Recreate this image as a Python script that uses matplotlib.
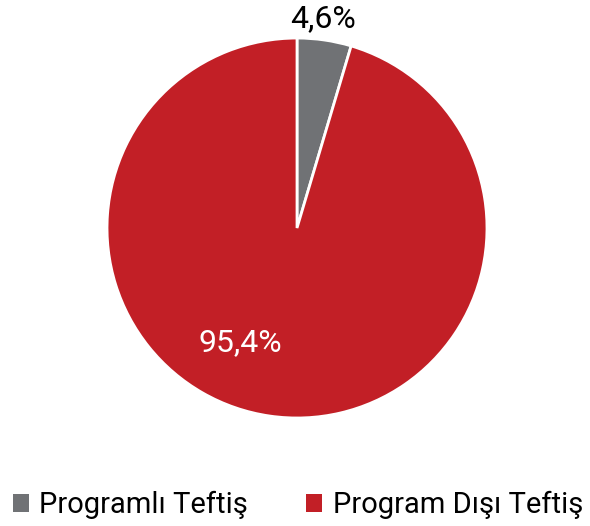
import matplotlib.pyplot as plt
from matplotlib.patches import Patch

plt.rcParams['font.family'] = ['Roboto', 'DejaVu Sans']

labels = ['Programlı Teftiş', 'Program Dışı Teftiş']
values = [4.6, 95.4]
label_text = ['4,6%', '95,4%']
colors = ['#707275', '#C21F26']

fig = plt.figure(figsize=(5.9, 5.26), dpi=100)
ax = fig.add_axes([0.1814, 0.2053, 0.644, 0.7224])

ax.pie(values, colors=colors, startangle=90, counterclock=False, radius=1,
       wedgeprops=dict(edgecolor='white', linewidth=2))
ax.set_xlim(-1, 1)
ax.set_ylim(-1, 1)
ax.set_aspect('equal')
ax.axis('off')

ax.text(0.137, 1.1, label_text[0], ha='center', va='center', fontsize=23, color='black', clip_on=False)
ax.text(-0.30, -0.605, label_text[1], ha='center', va='center', fontsize=23, color='white')

handles = [Patch(facecolor=c, edgecolor='none') for c in colors]
fig.legend(handles, labels, loc='center', bbox_to_anchor=(0.505, 0.04), ncol=2, frameon=False,
           fontsize=21, handlelength=0.55, handleheight=0.55, handletextpad=0.35, columnspacing=2.0)

fig.savefig('out.png', dpi=100)
